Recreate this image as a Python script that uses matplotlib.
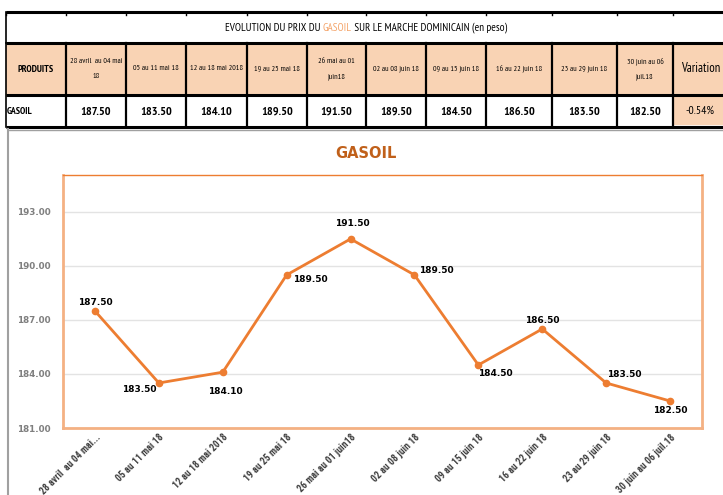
import matplotlib.pyplot as plt
from matplotlib import font_manager
from matplotlib.patches import Rectangle
from matplotlib.transforms import ScaledTranslation

# table / chart data
periods = ["28 avril  au 04 mai\n18", "05 au 11 mai 18", "12 au 18 mai 2018", "19 au 25 mai 18",
           "26 mai au 01\njuin18", "02 au 08 juin 18", "09 au 15 juin 18", "16 au 22 juin 18",
           "23 au 29 juin 18", "30 juin au 06\njuil.18"]
tick_labels = ["28 avril  au 04 mai...", "05 au 11 mai 18", "12 au 18 mai 2018", "19 au 25 mai 18",
               "26 mai au 01 juin18", "02 au 08 juin 18", "09 au 15 juin 18", "16 au 22 juin 18",
               "23 au 29 juin 18", "30 juin au 06 juil.18"]
prices = [187.50, 183.50, 184.10, 189.50, 191.50, 189.50, 184.50, 186.50, 183.50, 182.50]
variation = "-0.54%"
yticks = [181.0, 184.0, 187.0, 190.0, 193.0]

ORANGE = "#ED7D31"
PEACH = "#F9D3B4"

installed = {f.name for f in font_manager.fontManager.ttflist}


def first_font(cands, default="DejaVu Sans"):
    for c in cands:
        if c in installed:
            return c
    return default


# narrow font for the table, a less squeezed one for the tick labels
narrow = first_font(["PT Sans Narrow", "Roboto Condensed", "Archivo Narrow", "Liberation Sans Narrow",
                     "Barlow Condensed", "Fira Sans Condensed", "Encode Sans Condensed"])
semi = first_font(["Roboto Condensed", "Open Sans Condensed", "Fira Sans Condensed",
                   "Asap Condensed", "Encode Sans Semi Condensed", narrow])
NARROW = [narrow, "DejaVu Sans"]
SEMI = [semi, "DejaVu Sans"]

fig = plt.figure(figsize=(7.23, 4.95), dpi=100)

# ---- table drawn in pixel coords on a full-figure axes ----
tab = fig.add_axes([0, 0, 1, 1])
tab.set_xlim(0, 723)
tab.set_ylim(495, 0)
tab.axis("off")

edges = [6, 66, 126, 186, 247, 307, 366, 426, 486, 552, 617, 673, 730]
r0, r1, r2, r3 = 12, 43, 95, 127

for i in range(len(edges) - 1):
    tab.add_patch(Rectangle((edges[i], r1), edges[i + 1] - edges[i], r2 - r1, color=PEACH, zorder=0))
tab.add_patch(Rectangle((edges[-2], r2), edges[-1] - edges[-2], r3 - 3 - r2, color=PEACH, zorder=0))

for y in [r0, r1, r2, r3]:
    tab.plot([edges[0], 723], [y, y], color="black", lw=2.2, solid_capstyle="butt")
for i, x in enumerate(edges[:-1]):
    tab.plot([x, x], [r1, r3], color="black", lw=1.6 if i else 1.2)
    tab.plot([x, x], [r0, r0 + 3], color="black", lw=1)
tab.plot([edges[0], edges[0]], [r0, r1], color="black", lw=1.2)

# title with coloured GASOIL
parts = [("EVOLUTION DU PRIX DU ", "black"), ("GASOIL", "#F4A46A"),
         (" SUR LE MARCHE DOMINICAIN (en peso)", "black")]
fig.canvas.draw()
r = fig.canvas.get_renderer()
widths = []
for txt, c in parts:
    t = tab.text(0, 0, txt, fontsize=8, family=NARROW)
    widths.append(t.get_window_extent(r).width)
    t.remove()
x = 366 - sum(widths) / 2
for (txt, c), w in zip(parts, widths):
    tab.text(x, 28, txt, fontsize=8, family=NARROW, color=c, va="center", ha="left")
    x += w

tab.text((edges[0] + edges[1]) / 2, (r1 + r2) / 2, "PRODUITS", fontsize=7, fontweight="bold",
         family=NARROW, ha="center", va="center")
for i, p in enumerate(periods):
    cx = (edges[i + 1] + edges[i + 2]) / 2
    tab.text(cx, (r1 + r2) / 2, p, fontsize=5.8, family=NARROW, ha="center", va="center",
             linespacing=2.7)
    tab.text(cx, (r2 + r3) / 2 + 1, f"{prices[i]:.2f}", fontsize=8.8, fontweight="bold",
             family=NARROW, ha="center", va="center")
tab.text(701, (r1 + r2) / 2, "Variation", fontsize=9, family=NARROW,
         ha="center", va="center")
tab.text(700, (r2 + r3) / 2, variation, fontsize=8.5, family=NARROW,
         ha="center", va="center")
tab.text(7, (r2 + r3) / 2, "GASOIL", fontsize=7, fontweight="bold", family=NARROW,
         ha="left", va="center")

# chart area frame
tab.plot([7.5, 7.5], [129, 495], color="#A0A0A0", lw=1.5)
tab.plot([7.5, 723], [129.5, 129.5], color="#A0A0A0", lw=1)
tab.text(366, 153, "GASOIL", fontsize=10.5, fontweight="bold", color="#C0601A",
         ha="center", va="center")

# ---- line chart ----
ax = fig.add_axes([63 / 723, (495 - 428) / 495, (702 - 63) / 723, (428 - 175) / 495])
xs = list(range(len(prices)))
ax.plot(xs, prices, color=ORANGE, lw=2, marker="o", markersize=4.5, zorder=3)
ax.set_xlim(-0.5, len(prices) - 0.5)
ax.set_ylim(181, 195.05)
ax.set_yticks(yticks)
ax.set_yticklabels([f"{v:.2f}" for v in yticks], fontsize=6.3, fontweight="bold", color="#7F7F7F")
ax.set_xticks(xs)
ax.set_xticklabels(tick_labels, rotation=45, ha="right", rotation_mode="anchor",
                   fontsize=7, fontweight="bold", color="#404040", family=SEMI)
shift = ScaledTranslation(14 / 72, 0, fig.dpi_scale_trans)
for lab in ax.get_xticklabels():
    lab.set_transform(lab.get_transform() + shift)
ax.tick_params(length=0, axis="y", pad=9)
ax.tick_params(length=0, axis="x", pad=3)
ax.grid(axis="y", color="#E3E3E3", lw=1)
ax.set_axisbelow(True)
ax.spines["top"].set_color(ORANGE)
ax.spines["top"].set_linewidth(1)
for s in ["left", "right", "bottom"]:
    ax.spines[s].set_color("#F4B183")
    ax.spines[s].set_linewidth(2)

# data label offsets (points)
offsets = [(0, 6), (-14, -5), (2, -14), (17, -3), (1, 11), (16, 3), (12, -6), (0, 6), (13, 6), (0, -7)]
for xi, yi, (dx, dy) in zip(xs, prices, offsets):
    ax.annotate(f"{yi:.2f}", (xi, yi), xytext=(dx, dy), textcoords="offset points",
                ha="center", va="center", fontsize=6.5, fontweight="bold", color="black")

fig.savefig("out.png", dpi=100)
